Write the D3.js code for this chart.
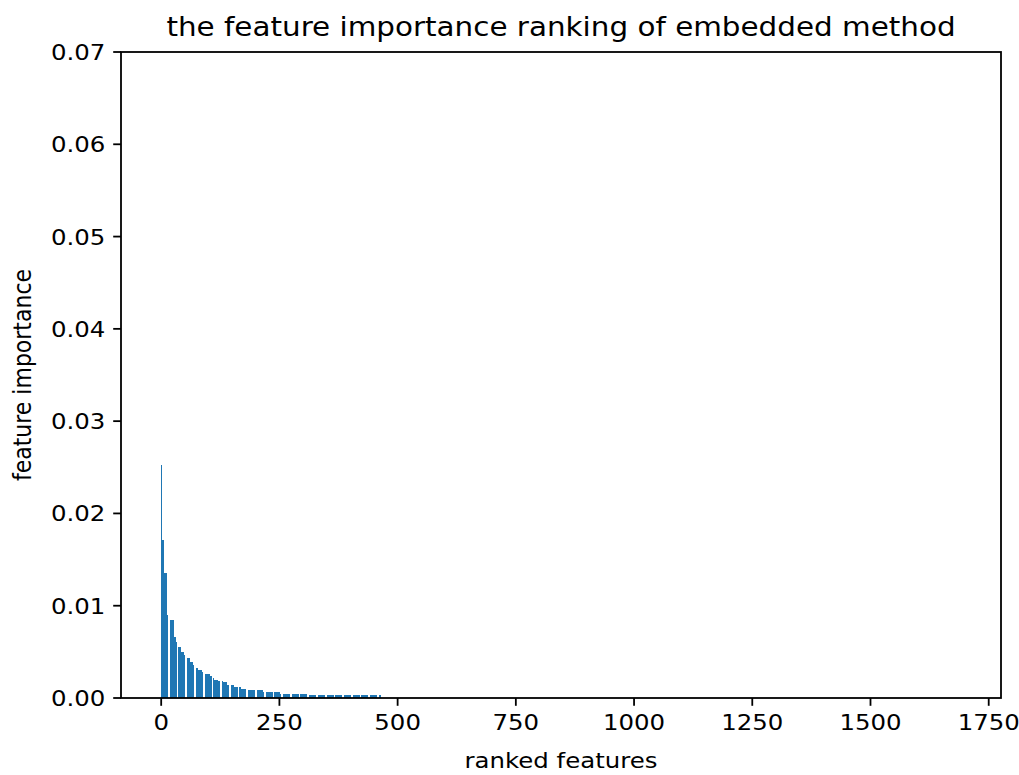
<!DOCTYPE html>
<html>
<head>
<meta charset="utf-8">
<script src="https://cdn.jsdelivr.net/npm/d3@7"></script>
<style>
  body { margin: 0; background: #fff; }
  text { font-family: "DejaVu Sans", sans-serif; fill: #000; }
</style>
</head>
<body>
<svg id="chart" width="1019" height="775"></svg>
<script>
// Ranked feature importances (embedded selection), sorted descending.
const featureCount = 1692;
// Each run covers ranks [previous end, end) sharing roughly the same importance.
const runEnds   = [1, 2, 6, 12, 19, 28, 32, 37, 42, 49, 54, 61, 68, 73, 78, 87, 92, 103, 108, 113, 120, 131, 140, 154, 169, 185, 190, 215, 251, 281, 310, 466];
const runValues = [0.0254, 0.0252, 0.0171, 0.0135, 0.0090, 0.00845, 0.0066, 0.0061, 0.00556, 0.0050, 0.00466, 0.0043, 0.00393, 0.00358, 0.00328, 0.00303, 0.00285, 0.00257, 0.00242, 0.00213, 0.00195, 0.00184, 0.0017, 0.00141, 0.00116, 0.00101, 0.00092, 0.00087, 0.00062, 0.00047, 0.00043, 0.0003];

const xTicks = [0, 250, 500, 750, 1000, 1250, 1500, 1750];
const yTicks = [0, 0.01, 0.02, 0.03, 0.04, 0.05, 0.06, 0.07];
const yTickLabels = ["0.00", "0.01", "0.02", "0.03", "0.04", "0.05", "0.06", "0.07"];

const titleText = "the feature importance ranking of embedded method";
const xLabelText = "ranked features";
const yLabelText = "feature importance";

// expand runs into one value per ranked feature
const importance = d3.range(featureCount).map(r => {
  const i = runEnds.findIndex(e => r < e);
  return i === -1 ? 0 : runValues[i];
});

const plot = { left: 121, right: 1001, top: 52, bottom: 698 };
const stretchX = 1.11;
const lw = 1.8;
const tickLen = 7.8;
const blue = "#1f77b4";

const span = featureCount - 0.2;
const x = d3.scaleLinear()
  .domain([-0.4 - 0.05 * span, featureCount - 0.6 + 0.05 * span])
  .range([plot.left, plot.right]);
const y = d3.scaleLinear().domain([0, 0.07]).range([plot.bottom, plot.top]);

const svg = d3.select("#chart");
svg.append("rect").attr("width", 1019).attr("height", 775).attr("fill", "#fff");

function place(sel, px, py, rot) {
  sel.attr("transform", `translate(${px},${py})` + (rot ? ` rotate(${rot})` : "") + ` scale(${rot ? 1 : stretchX},${rot ? stretchX : 1})`);
  return sel;
}

// bars
const barW = x(0.8) - x(0);
svg.append("g").attr("shape-rendering", "crispEdges")
  .selectAll("rect").data(importance.map((v, i) => ({ i, v })).filter(d => d.v > 0))
  .join("rect")
  .attr("x", d => x(d.i - 0.4))
  .attr("width", barW)
  .attr("y", d => y(d.v))
  .attr("height", d => y(0) - y(d.v))
  .attr("fill", blue);

// frame
svg.append("rect")
  .attr("x", plot.left).attr("y", plot.top)
  .attr("width", plot.right - plot.left).attr("height", plot.bottom - plot.top)
  .attr("fill", "none").attr("stroke", "#000").attr("stroke-width", lw);

// x ticks
const xg = svg.append("g");
xTicks.forEach(t => {
  xg.append("line")
    .attr("x1", x(t)).attr("x2", x(t))
    .attr("y1", plot.bottom).attr("y2", plot.bottom + tickLen)
    .attr("stroke", "#000").attr("stroke-width", lw);
  place(xg.append("text"), x(t), plot.bottom + tickLen + 7.8)
    .attr("text-anchor", "middle").attr("dominant-baseline", "hanging")
    .attr("font-size", 22).text(t);
});

// y ticks
const yg = svg.append("g");
yTicks.forEach((t, i) => {
  yg.append("line")
    .attr("x1", plot.left - tickLen).attr("x2", plot.left)
    .attr("y1", y(t)).attr("y2", y(t))
    .attr("stroke", "#000").attr("stroke-width", lw);
  place(yg.append("text"), plot.left - tickLen - 7.8, y(t))
    .attr("text-anchor", "end").attr("dominant-baseline", "central")
    .attr("font-size", 22).text(yTickLabels[i]);
});

// title and axis labels
place(svg.append("text"), (plot.left + plot.right) / 2, 36)
  .attr("text-anchor", "middle").attr("font-size", 26.5).text(titleText);
place(svg.append("text"), (plot.left + plot.right) / 2, 768)
  .attr("text-anchor", "middle").attr("font-size", 22).text(xLabelText);
place(svg.append("text"), 31, (plot.top + plot.bottom) / 2, -90)
  .attr("text-anchor", "middle").attr("font-size", 22).text(yLabelText);
</script>
</body>
</html>
